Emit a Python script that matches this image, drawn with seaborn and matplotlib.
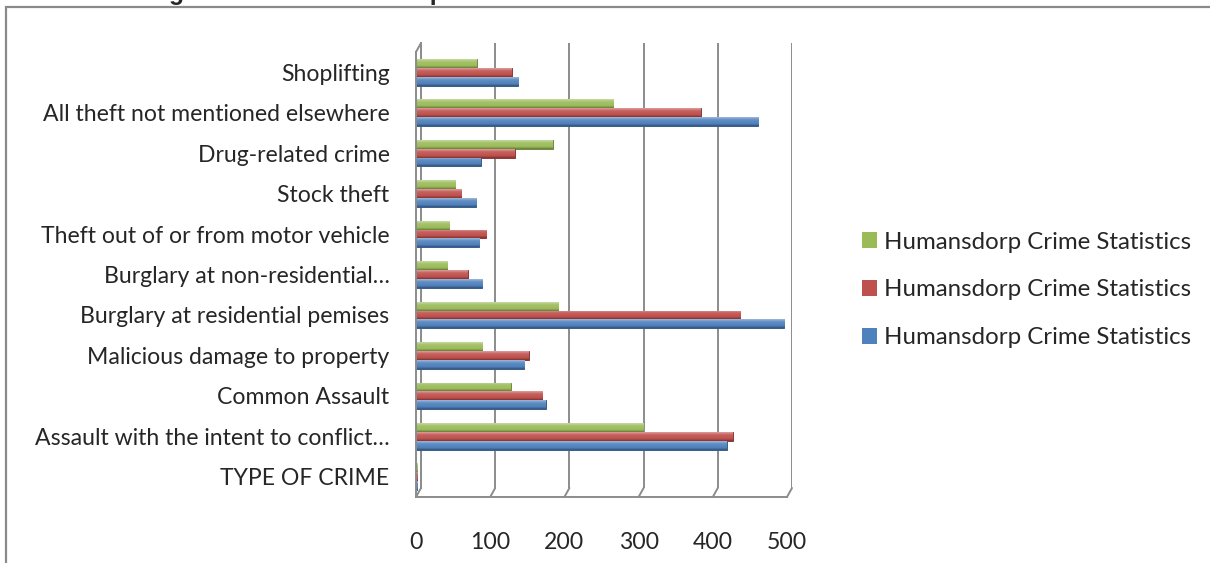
import numpy as np
import pandas as pd
import matplotlib
matplotlib.use("Agg")
import matplotlib.pyplot as plt
import seaborn as sns
from matplotlib.lines import Line2D
from matplotlib.patches import Rectangle, Patch
from matplotlib.colors import LinearSegmentedColormap, to_rgb

# Categories, top to bottom
crime_types = [
    "Shoplifting",
    "All theft not mentioned elsewhere",
    "Drug-related crime",
    "Stock theft",
    "Theft out of or from motor vehicle",
    "Burglary at non-residential…",
    "Burglary at residential pemises",
    "Malicious damage to property",
    "Common Assault",
    "Assault with the intent to conflict…",
    "TYPE OF CRIME",
]
series_blue = [138, 461, 87, 81, 85, 89, 496, 146, 175, 419, 2]
series_red = [129, 384, 133, 61, 95, 70, 437, 152, 170, 427, 2]
series_green = [82, 266, 184, 53, 45, 42, 192, 89, 128, 306, 2]
series_label = "Humansdorp Crime Statistics"
x_ticks = [0, 100, 200, 300, 400, 500]
title_text = "Figure 4.12: Humansdorp Crime Statistics"

colors = {"green": "#9BBB59", "red": "#C0504D", "blue": "#4F81BD"}
edges = {"green": "#71893F", "red": "#8C3836", "blue": "#385D8A"}
hue_order = ["green", "red", "blue"]

df = pd.concat([
    pd.DataFrame({"crime": crime_types, "value": series_green, "series": "green"}),
    pd.DataFrame({"crime": crime_types, "value": series_red, "series": "red"}),
    pd.DataFrame({"crime": crime_types, "value": series_blue, "series": "blue"}),
], ignore_index=True)

sns.set_style("white")
plt.rcParams["font.family"] = ["Lato", "DejaVu Sans"]

W, H = 1210, 563
fig = plt.figure(figsize=(W / 100, H / 100), dpi=100)

# plot box in pixels (front plane)
x0, x1 = 416, 787
y0, y1 = 52, 497
dx, dy = 5, 9  # depth offset of the back wall

def px_rect(l, t, r, b):
    return [l / W, 1 - b / H, (r - l) / W, (b - t) / H]

# back wall with gridlines
axb = fig.add_axes(px_rect(x0 + dx, y0 - dy, x1 + dx, y1 - dy))
axb.set_xlim(0, 500)
axb.set_ylim(0, 1)
axb.set_xticks(x_ticks)
axb.tick_params(length=0, labelbottom=False, labelleft=False)
axb.set_yticks([])
axb.grid(axis="x", color="#8C8C8C", lw=1.4)
for s in axb.spines.values():
    s.set_visible(False)
axb.spines["left"].set_visible(True)
axb.spines["left"].set_color("#8C8C8C")
axb.spines["left"].set_linewidth(1.4)
axb.patch.set_alpha(0)

# front axes with the bars
ax = fig.add_axes(px_rect(x0, y0, x1, y1))
ax.patch.set_alpha(0)
sns.barplot(data=df, x="value", y="crime", hue="series", hue_order=hue_order,
            order=crime_types, palette=colors, orient="h", width=0.66,
            legend=False, ax=ax, saturation=1)

def shade(c, f):
    r = np.array(to_rgb(c))
    return tuple(r + (1 - r) * f) if f > 0 else tuple(r * (1 + f))

# cylinder-like shading on each bar
for i, bars in enumerate(ax.containers):
    key = hue_order[i]
    base = colors[key]
    cmap = LinearSegmentedColormap.from_list(
        key, [(0.0, shade(base, 0.45)), (0.3, shade(base, 0.1)),
              (0.75, to_rgb(base)), (1.0, shade(base, -0.35))])
    for p in bars:
        p.set_edgecolor(edges[key])
        p.set_linewidth(0.7)
        x, y, w, h = p.get_x(), p.get_y(), p.get_width(), p.get_height()
        if w <= 0:
            continue
        im = ax.imshow(np.linspace(0, 1, 64).reshape(-1, 1), cmap=cmap,
                       extent=(x, x + w, y + h, y), origin="upper",
                       aspect="auto", zorder=p.get_zorder() + 0.1, interpolation="bilinear")
        im.set_clip_path(p)

ax.set_aspect("auto")
ax.set_xlim(0, 500)
ax.set_ylim(len(crime_types) - 0.5, -0.5)
ax.set_xticks(x_ticks)
ax.set_xlabel("")
ax.set_ylabel("")
ax.set_yticks(np.arange(len(crime_types) + 1) - 0.5, minor=True)
ax.tick_params(axis="y", which="major", length=0, pad=19, labelsize=16.6)
ax.tick_params(axis="y", which="minor", length=6.5, width=1.3, color="#8C8C8C", direction="out")
ax.tick_params(axis="x", which="major", length=5.5, width=1.3, color="#8C8C8C", pad=20, labelsize=16.6)
for side in ["top", "right"]:
    ax.spines[side].set_visible(False)
for side in ["left", "bottom"]:
    ax.spines[side].set_color("#8C8C8C")
    ax.spines[side].set_linewidth(1.4)

# floor and side-wall depth lines linking the front plane to the back wall
inv = fig.transFigure.inverted()
def link(p_front, p_back):
    a = inv.transform(p_front)
    b = inv.transform(p_back)
    fig.add_artist(Line2D([a[0], b[0]], [a[1], b[1]], color="#8C8C8C", lw=1.4))

fig.canvas.draw()
for v in x_ticks:
    link(ax.transData.transform((v, len(crime_types) - 0.5)), axb.transData.transform((v, 0)))
link(ax.transData.transform((0, -0.5)), axb.transData.transform((0, 1)))

# legend
handles = [Patch(facecolor=colors[k], edgecolor="none") for k in hue_order]
fig.legend(handles, [series_label] * 3, loc="center left",
           bbox_to_anchor=(862 / W, 1 - 290 / H), frameon=False, fontsize=17.3,
           handlelength=0.62, handleheight=0.62, handletextpad=0.3,
           labelspacing=1.12, borderpad=0, borderaxespad=0)

# outer chart frame
fig.add_artist(Rectangle((6 / W, -0.1), 1.2, (1 - 7 / H) + 0.1, transform=fig.transFigure,
                         fill=False, edgecolor="#8A8A8A", lw=1.6))

# heading above the chart, mostly outside the canvas
fig.text(638 / W, 1 + 0.2 / H, title_text, ha="right", va="baseline",
         fontsize=17.8, fontweight="bold", family=["Liberation Sans", "DejaVu Sans"])

fig.savefig("out.png", dpi=100)
